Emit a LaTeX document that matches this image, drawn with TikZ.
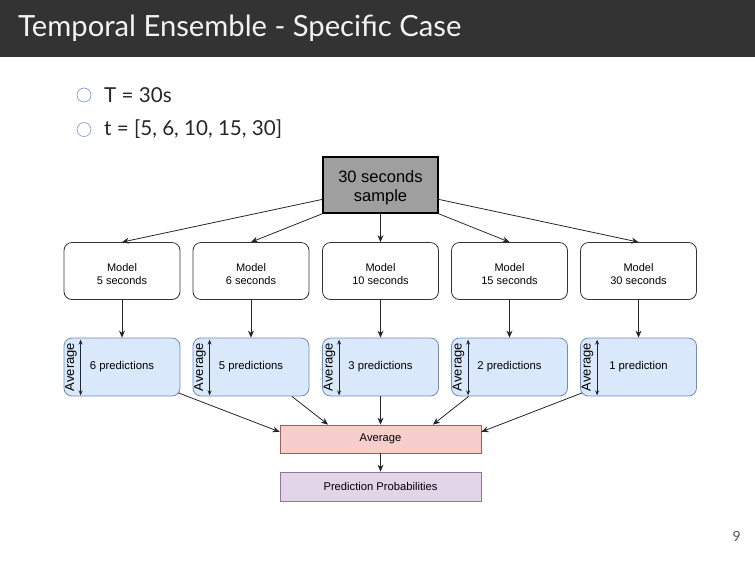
\documentclass[tikz,border=0pt]{standalone}
\usepackage{fontspec}
\setmainfont{Liberation Sans}
\newfontfamily\slidefont{Lato}
\usetikzlibrary{arrows.meta,calc}
\definecolor{titlebg}{HTML}{333333}
\definecolor{titlefg}{HTML}{F2F2F2}
\definecolor{bulletc}{HTML}{7F9FD5}
\definecolor{topfill}{HTML}{9F9F9F}
\definecolor{predfill}{HTML}{DAE8FC}
\definecolor{preddraw}{HTML}{6C8EBF}
\definecolor{avgfill}{HTML}{F8CECC}
\definecolor{avgdraw}{HTML}{B85450}
\definecolor{probfill}{HTML}{E1D5E7}
\definecolor{probdraw}{HTML}{9673A6}
\definecolor{pagenum}{HTML}{555555}
\tikzset{
  conn/.style={draw=black!85, line width=0.8pt, -{Stealth[length=7pt,width=6pt]}},
  dbl/.style={draw=black!85, line width=0.8pt, {Stealth[length=5pt,width=4pt,open]}-{Stealth[length=5pt,width=4pt,open]}},
  modelbox/.style={draw=black!80, line width=0.8pt, fill=white, rounded corners=8pt,
    minimum width=116pt, minimum height=57pt, inner sep=0pt, align=center,
    font=\fontsize{11}{13}\selectfont},
  predbox/.style={draw=preddraw, line width=0.8pt, fill=predfill, rounded corners=8pt,
    minimum width=116pt, minimum height=58pt, inner sep=0pt, align=center,
    font=\fontsize{11.3}{13}\selectfont},
  avgtxt/.style={rotate=90, inner sep=0pt, font=\fontsize{13}{15}\selectfont},
  bulletdot/.style={draw=bulletc, line width=0.7pt, circle, minimum size=14pt, inner sep=0pt},
  bullettxt/.style={anchor=base west, inner sep=0pt, text=black!85, font=\slidefont\fontsize{20.6}{24}\selectfont},
}
\begin{document}
\begin{tikzpicture}[x=1pt,y=-1pt]
\useasboundingbox (0,0) rectangle (755,566);
\fill[titlebg] (0,0) rectangle (755,57);
\node[anchor=base west, inner sep=0pt, text=titlefg, font=\slidefont\fontsize{29.2}{32}\selectfont] (title) at (18,36) {Temporal Ensemble - Specific Case};

\node[bulletdot] (b1) at (84,95) {};
\node[bullettxt] (t1) at (104,102) {T = 30s};
\node[bulletdot] (b2) at (84,129.5) {};
\node[bullettxt] (t2) at (104,135) {t = [5, 6, 10, 15, 30]};

\node[draw=black, line width=1.6pt, fill=topfill, minimum width=115pt, minimum height=56pt, inner sep=0pt, align=center, font=\fontsize{16.5}{19}\selectfont] (top) at (380.5,185) {\rule{0pt}{18pt}30 seconds\\sample};

\foreach \i/\x/\s in {1/122/5 seconds,2/251/6 seconds,3/380.5/10 seconds,4/509.5/15 seconds,5/638.5/30 seconds}{
  \node[modelbox] (m\i) at (\x,271) {\rule{0pt}{13.5pt}Model\\\s};
}
\foreach \i/\x/\s in {1/122/6 predictions,2/251/5 predictions,3/380.5/3 predictions,4/509.5/2 predictions,5/638.5/1 prediction}{
  \node[predbox] (p\i) at (\x,367) {\s};
  \node[avgtxt] (a\i) at ($(p\i.west)+(7.5,0)$) {Average};
  \coordinate (u\i) at ($(p\i.north west)+(17,2)$);
  \coordinate (d\i) at ($(p\i.south west)+(17,-1)$);
  \draw[dbl] (u\i) -- (d\i);
  \draw[conn] (m\i.south) -- (p\i.north);
}

\node[draw=avgdraw, line width=0.8pt, fill=avgfill, minimum width=201pt, minimum height=28pt, inner sep=0pt, font=\fontsize{11.2}{13}\selectfont] (avg) at (380.5,439) {Average};
\node[draw=probdraw, line width=0.8pt, fill=probfill, minimum width=201pt, minimum height=29pt, inner sep=0pt, font=\fontsize{11.2}{13}\selectfont] (prob) at (380.5,486.5) {Prediction Probabilities};

% top to models
\draw[conn] ($(top.west)!0.5!(top.south west)$) -- (m1.north);
\draw[conn] (top.south west) -- (m2.north);
\draw[conn] (top.south) -- (m3.north);
\draw[conn] (top.south east) -- (m4.north);
\draw[conn] ($(top.east)!0.5!(top.south east)$) -- (m5.north);

% predictions to average
\draw[conn] ($(p1.south east)+(-2,-3.5)$) -- ($(avg.west)!0.5!(avg.north west)$);
\draw[conn] ($(p2.south)!0.7!(p2.south east)$) -- ($(avg.north west)!0.24!(avg.north east)$);
\draw[conn] (p3.south) -- (avg.north);
\draw[conn] ($(p4.south)!0.7!(p4.south west)$) -- ($(avg.north east)!0.24!(avg.north west)$);
\draw[conn] ($(p5.south west)+(2,-3.5)$) -- ($(avg.east)!0.5!(avg.north east)$);

\draw[conn] (avg.south) -- (prob.north);

\node[anchor=base east, inner sep=0pt, text=pagenum, font=\slidefont\fontsize{14}{16}\selectfont] (pg) at (741,541) {9};
\end{tikzpicture}
\end{document}
